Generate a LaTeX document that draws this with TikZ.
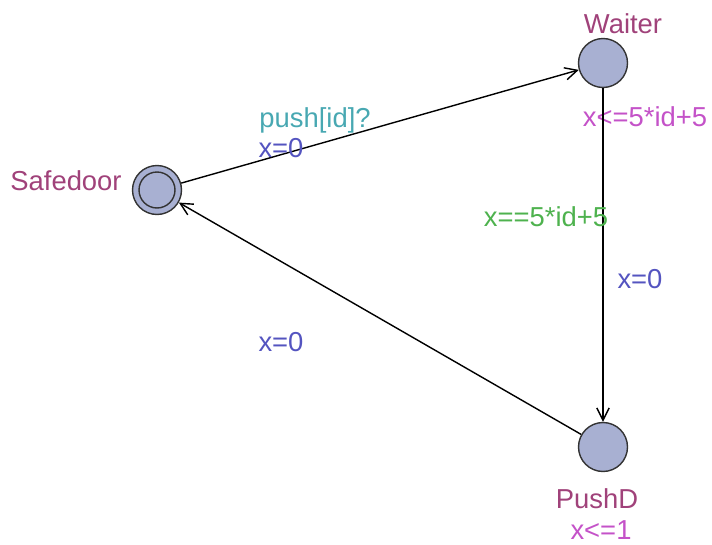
\documentclass[tikz,border=0pt]{standalone}
\usepackage{fontspec}
\setmainfont{Liberation Sans}
\usetikzlibrary{positioning, arrows.meta}
\definecolor{locfill}{RGB}{168,176,210}
\definecolor{locname}{RGB}{160,66,122}
\definecolor{invcol}{RGB}{196,82,200}
\definecolor{synccol}{RGB}{72,168,178}
\definecolor{assigncol}{RGB}{84,84,192}
\definecolor{guardcol}{RGB}{78,178,78}

\begin{document}
\begin{tikzpicture}[x=0.02cm, y=-0.02cm,
        every node/.style={font=\fontsize{15.6}{18}\selectfont},
        loc/.style={circle, draw=black!80, line width=0.8pt, fill=locfill, minimum size=0.98cm, inner sep=0pt},
        lbl/.style={anchor=base, inner sep=0pt},
        edge/.style={line width=0.8pt, -{Straight Barb[length=7pt, width=7pt]}}]
        \useasboundingbox (0,0) rectangle (712,544);
        % locations
        \node[loc] (safedoor) at (157,190) {};
        \draw[black!80, line width=0.8pt] (safedoor.center) circle[radius=0.36cm];
        \node[loc] (waiter) at (603,63) {};
        \node[loc] (pushd) at (603,447) {};
        % names and invariants
        \node[lbl, locname] (safedoorname) at (66,190) {Safedoor};
        \node[lbl, locname] (waitername) at (623,34) {Waiter};
        \node[lbl, invcol] (waiterinv) at (645,126) {x<=5*id+5};
        \node[lbl, locname] (pushdname) at (597,508) {PushD};
        \node[lbl, invcol] (pushdinv) at (601,539) {x<=1};
        % Now the edges between the locations
        \draw[edge] (safedoor) -- (waiter);
        \draw[edge] (waiter) -- (pushd);
        \draw[edge] (pushd) -- (safedoor);
        % edge labels
        \node[lbl, synccol] (sync1) at (315,127) {push[id]?};
        \node[lbl, assigncol] (assign1) at (281,157) {x=0};
        \node[lbl, guardcol] (guard2) at (546,226) {x==5*id+5};
        \node[lbl, assigncol] (assign2) at (640,288) {x=0};
        \node[lbl, assigncol] (assign3) at (281,351) {x=0};
\end{tikzpicture}
\end{document}
